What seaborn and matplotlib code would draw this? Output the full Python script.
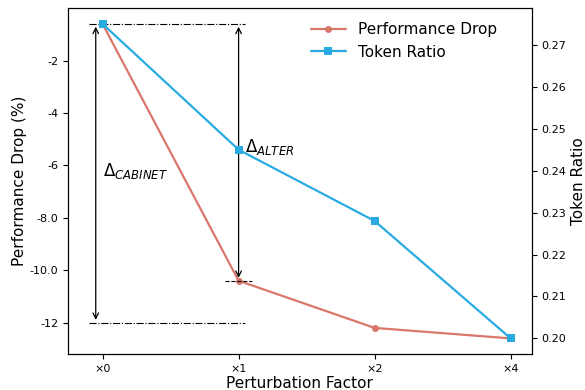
import matplotlib
matplotlib.use("Agg")
import matplotlib.pyplot as plt
import seaborn as sns
import pandas as pd

factors = ["×0", "×1", "×2", "×4"]
perf_drop = [-0.6, -10.4, -12.2, -12.6]
token_ratio = [0.275, 0.245, 0.228, 0.200]
left_ticks = [-2, -4, -6, -8, -10, -12]
left_tick_labels = ["-2", "-4", "-6", "-8.0", "-10.0", "-12"]
right_ticks = [0.20, 0.21, 0.22, 0.23, 0.24, 0.25, 0.26, 0.27]

sns.set_style("ticks")
plt.rcParams['font.family'] = ['DejaVu Sans']
plt.rcParams.update({"text.color": "black", "axes.labelcolor": "black",
                     "xtick.color": "black", "ytick.color": "black",
                     "axes.edgecolor": "black"})

red = "#d9776b"
blue = "#29abe2"

df = pd.DataFrame({"x": range(len(factors)), "perf": perf_drop, "tok": token_ratio})

fig, ax = plt.subplots(figsize=(5.85, 3.9), dpi=100)
fig.subplots_adjust(left=0.116, right=0.909, top=0.979, bottom=0.092)

sns.lineplot(data=df, x="x", y="perf", ax=ax, color=red, marker="o", markersize=5,
             markeredgewidth=0, linewidth=1.6, label="Performance Drop", legend=False)
ax2 = ax.twinx()
sns.lineplot(data=df, x="x", y="tok", ax=ax2, color=blue, marker="s", markersize=5.5,
             markeredgewidth=0, linewidth=1.6, label="Token Ratio", legend=False)

# reference lines
ax.hlines(perf_drop[0], -0.1, 1.05, colors="black", linestyles="-.", linewidth=0.8)
ax.hlines(-12, -0.1, 1.05, colors="black", linestyles="-.", linewidth=0.8)
ax.hlines(perf_drop[1], 0.9, 1.1, colors="black", linestyles="--", linewidth=0.8)

ax.annotate("", xy=(-0.05, -12), xytext=(-0.05, perf_drop[0]),
            arrowprops=dict(arrowstyle="<->", color="black", lw=0.9))
ax.annotate("", xy=(1.0, perf_drop[1]), xytext=(1.0, perf_drop[0]),
            arrowprops=dict(arrowstyle="<->", color="black", lw=0.9))

ax.text(0.0, -6.2, r"$\Delta_{CABINET}$", fontsize=12, ha="left", va="center")
ax.text(1.05, -5.3, r"$\Delta_{ALTER}$", fontsize=12, ha="left", va="center")

ax.margins(x=0.05)
ax.autoscale(axis="x")
ax.set_ylim(-13.2, 0.0)
ax2.set_ylim(0.19625, 0.27875)
ax.set_xticks(range(len(factors)))
ax.set_xticklabels(factors, fontsize=8)
ax.set_yticks(left_ticks)
ax.set_yticklabels(left_tick_labels, fontsize=8)
ax2.set_yticks(right_ticks)
ax2.set_yticklabels([f"{t:.2f}" for t in right_ticks], fontsize=8)

ax.set_xlabel("Perturbation Factor", fontsize=11, labelpad=1.5)
ax.set_ylabel("Performance Drop (%)", fontsize=11, labelpad=1.5)
ax2.set_ylabel("Token Ratio", fontsize=11, labelpad=3)

h1, l1 = ax.get_legend_handles_labels()
h2, l2 = ax2.get_legend_handles_labels()
ax2.legend(h1 + h2, l1 + l2, loc="upper right", bbox_to_anchor=(0.955, 1.0),
           frameon=False, fontsize=11, handlelength=2.3)

fig.savefig("out.png", dpi=100)
